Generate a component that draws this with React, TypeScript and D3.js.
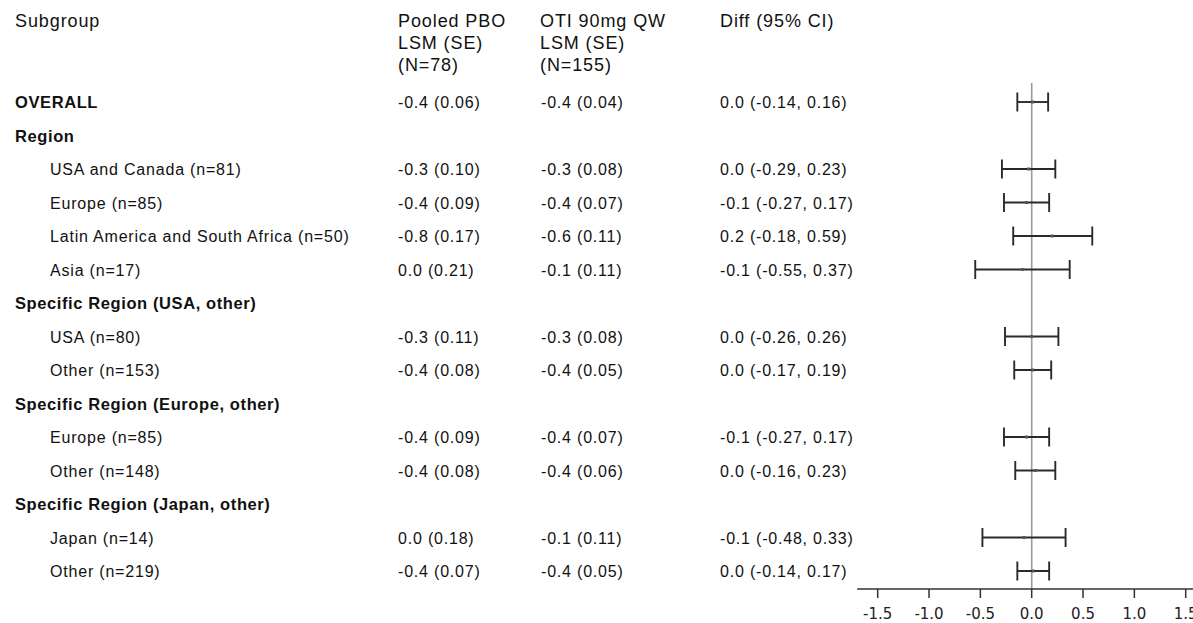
import React from "react";
import * as d3 from "d3";

const labels = [
  "OVERALL",
  "Region",
  "USA and Canada (n=81)",
  "Europe (n=85)",
  "Latin America and South Africa (n=50)",
  "Asia (n=17)",
  "Specific Region (USA, other)",
  "USA (n=80)",
  "Other (n=153)",
  "Specific Region (Europe, other)",
  "Europe (n=85)",
  "Other (n=148)",
  "Specific Region (Japan, other)",
  "Japan (n=14)",
  "Other (n=219)",
];
const isGroup = [true, true, false, false, false, false, true, false, false, true, false, false, true, false, false];
const pboLsm: (number | null)[] = [-0.4, null, -0.3, -0.4, -0.8, 0.0, null, -0.3, -0.4, null, -0.4, -0.4, null, 0.0, -0.4];
const pboSe: (number | null)[] = [0.06, null, 0.1, 0.09, 0.17, 0.21, null, 0.11, 0.08, null, 0.09, 0.08, null, 0.18, 0.07];
const otiLsm: (number | null)[] = [-0.4, null, -0.3, -0.4, -0.6, -0.1, null, -0.3, -0.4, null, -0.4, -0.4, null, -0.1, -0.4];
const otiSe: (number | null)[] = [0.04, null, 0.08, 0.07, 0.11, 0.11, null, 0.08, 0.05, null, 0.07, 0.06, null, 0.11, 0.05];
const diffShown: (number | null)[] = [0.0, null, 0.0, -0.1, 0.2, -0.1, null, 0.0, 0.0, null, -0.1, 0.0, null, -0.1, 0.0];
const ciLow: (number | null)[] = [-0.14, null, -0.29, -0.27, -0.18, -0.55, null, -0.26, -0.17, null, -0.27, -0.16, null, -0.48, -0.14];
const ciHigh: (number | null)[] = [0.16, null, 0.23, 0.17, 0.59, 0.37, null, 0.26, 0.19, null, 0.17, 0.23, null, 0.33, 0.17];
const pointEst: (number | null)[] = [0.01, null, -0.03, -0.05, 0.2, -0.09, null, 0.0, 0.01, null, -0.05, 0.035, null, -0.075, 0.015];

const xTicks = [-1.5, -1.0, -0.5, 0.0, 0.5, 1.0, 1.5];
const headerCols = [
  { x: 15, lines: ["Subgroup"] },
  { x: 398, lines: ["Pooled PBO", "LSM (SE)", "(N=78)"] },
  { x: 540, lines: ["OTI 90mg QW", "LSM (SE)", "(N=155)"] },
  { x: 720, lines: ["Diff (95% CI)"] },
];

const W = 1193;
const H = 623;

const f1 = (v: number) => {
  const s = v.toFixed(1);
  return s === "-0.0" ? "0.0" : s;
};
const f2 = (v: number) => v.toFixed(2);

export default function App() {
  const x = d3.scaleLinear().domain([-1.5, 1.5]).range([877.7, 1185.7]);
  const y = d3.scaleLinear().domain([0, labels.length - 1]).range([108, 577]);
  const axisY = 589;
  const font = "'Liberation Sans', Arial, sans-serif";
  const textColor = "#111";

  return (
    <svg
      width={W}
      height={H}
      style={{ position: "absolute", left: 0, top: 0, background: "#fff" }}
    >
      {/* header */}
      {headerCols.map((c, i) => (
        <text key={i} x={c.x} y={27} fontFamily={font} fontSize={18} letterSpacing={0.9} fill={textColor}>
          {c.lines.map((l, j) => (
            <tspan key={j} x={c.x} y={27 + j * 22}>
              {l}
            </tspan>
          ))}
        </text>
      ))}

      {/* rows */}
      {labels.map((lab, i) => {
        const by = y(i);
        return (
          <g key={i}>
            <text
              x={isGroup[i] ? 15 : 50}
              y={by}
              fontFamily={font}
              fontSize={isGroup[i] ? 16.5 : 16}
              fontWeight={isGroup[i] ? "bold" : "normal"}
              letterSpacing={isGroup[i] ? 0.6 : 0.8}
              fill={textColor}
            >
              {lab}
            </text>
            {pboLsm[i] !== null && (
              <text x={398} y={by} fontFamily={font} fontSize={16} letterSpacing={0.8} fill={textColor}>
                {`${f1(pboLsm[i] as number)} (${f2(pboSe[i] as number)})`}
              </text>
            )}
            {otiLsm[i] !== null && (
              <text x={541} y={by} fontFamily={font} fontSize={16} letterSpacing={0.8} fill={textColor}>
                {`${f1(otiLsm[i] as number)} (${f2(otiSe[i] as number)})`}
              </text>
            )}
            {diffShown[i] !== null && (
              <text x={720} y={by} fontFamily={font} fontSize={16} letterSpacing={0.8} fill={textColor}>
                {`${f1(diffShown[i] as number)} (${f2(ciLow[i] as number)}, ${f2(ciHigh[i] as number)})`}
              </text>
            )}
          </g>
        );
      })}

      {/* reference line at zero */}
      <line x1={x(0)} x2={x(0)} y1={83} y2={axisY} stroke="#9a9a9a" strokeWidth={1.6} />

      {/* CIs */}
      {labels.map((_, i) => {
        if (ciLow[i] === null) return null;
        const cy = y(i) - 6;
        const x1 = x(ciLow[i] as number);
        const x2 = x(ciHigh[i] as number);
        const px = x(pointEst[i] as number);
        return (
          <g key={"ci" + i} stroke="#2a2a2a" strokeWidth={1.9}>
            <line x1={x1} x2={x2} y1={cy} y2={cy} />
            <line x1={x1} x2={x1} y1={cy - 9.5} y2={cy + 9.5} />
            <line x1={x2} x2={x2} y1={cy - 9.5} y2={cy + 9.5} />
            <rect x={px - 1.5} y={cy - 1.5} width={3} height={3} fill="#555" stroke="none" />
          </g>
        );
      })}

      {/* x axis */}
      <line x1={x(-1.7)} x2={x(1.7)} y1={axisY} y2={axisY} stroke="#333" strokeWidth={1.5} />
      {xTicks.map((t) => (
        <g key={t}>
          <line x1={x(t)} x2={x(t)} y1={axisY} y2={axisY + 9} stroke="#333" strokeWidth={1.5} />
          <text
            x={x(t)}
            y={619}
            textAnchor="middle"
            fontFamily="'DejaVu Sans', Verdana, sans-serif"
            fontSize={15}
            fill="#222"
          >
            {t.toFixed(1)}
          </text>
        </g>
      ))}
    </svg>
  );
}
